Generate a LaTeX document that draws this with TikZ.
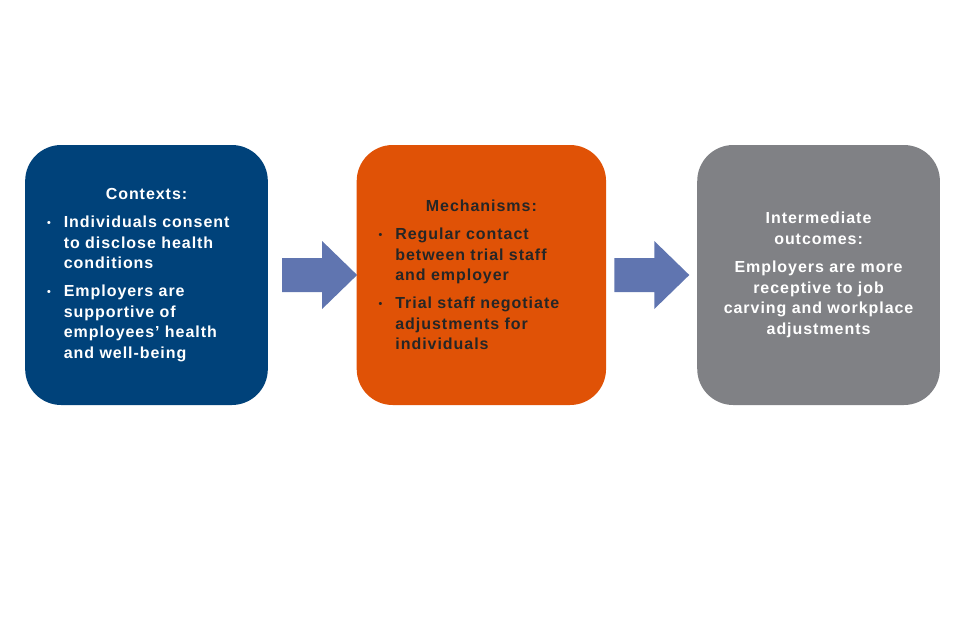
\documentclass[tikz,border=0pt]{standalone}
\usepackage{fontspec}
\setmainfont{Liberation Sans}[LetterSpace=6]
\usetikzlibrary{positioning,calc}

\definecolor{ctxblue}{RGB}{0,66,122}
\definecolor{mechorange}{RGB}{224,82,6}
\definecolor{outgray}{RGB}{128,129,133}
\definecolor{arrowblue}{RGB}{96,117,176}
\definecolor{darktext}{RGB}{38,38,38}

\newcommand{\bulletline}[1]{\par\vspace{5.5pt}\hangindent=12.5pt\hangafter=1\noindent
  \makebox[12.5pt][l]{\raisebox{1pt}{\fontsize{8}{8}\selectfont\textbullet}}#1\par}

\tikzset{
  stagebox/.style={rounded corners=27pt,minimum width=182pt,minimum height=195pt,
    inner sep=0pt,align=left,font=\bfseries\fontsize{12}{15.4}\selectfont},
  blockarrow/.pic={
    \fill[arrowblue] (0,-17) -- (40,-17) -- (40,-34) -- (75,0) -- (40,34) -- (40,17) -- (0,17) -- cycle;
  }
}

\begin{document}
\begin{tikzpicture}[x=0.75pt,y=-0.75pt]
    \useasboundingbox (0,0) rectangle (960,640);
    \node[stagebox,fill=ctxblue,text=white,text width=149pt] (ctx) at (146.5,275)
      {{\centering Contexts:\par}
       \bulletline{Individuals consent\newline to disclose health\newline conditions}
       \bulletline{Employers are\newline supportive of\newline employees’ health\newline and well-being}};
    \node[stagebox,fill=mechorange,text=darktext,text width=154pt,minimum width=187pt,
      right=66.25pt of ctx] (mech)
      {{\centering Mechanisms:\par}
       \bulletline{Regular contact\newline between trial staff\newline and employer}
       \bulletline{Trial staff negotiate\newline adjustments for\newline individuals}};
    \node[stagebox,fill=outgray,text=white,text width=170pt,align=center,
      right=68pt of mech] (outc)
      {Intermediate\\outcomes:\par\vspace{6pt}
       Employers are more\\receptive to job\\carving and workplace\\adjustments};
    % block arrows between the stages
    \pic at ($(ctx.east)+(14,0)$) {blockarrow};
    \pic at ($(mech.east)+(8,0)$) {blockarrow};
\end{tikzpicture}
\end{document}
